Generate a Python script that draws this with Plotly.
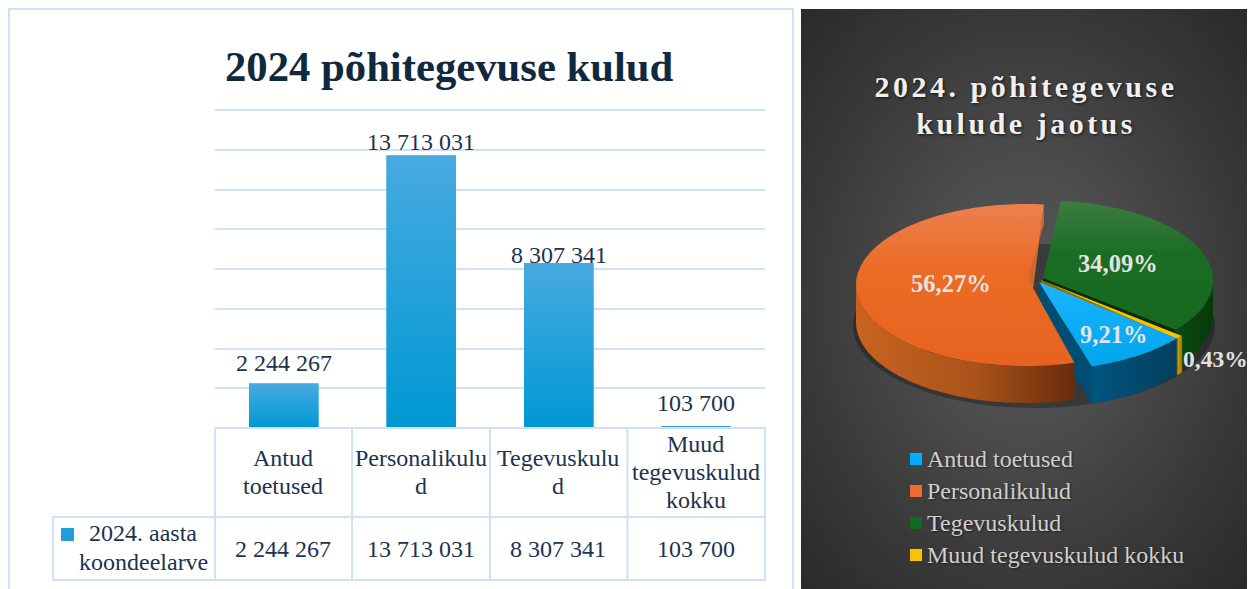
import numpy as np
import plotly.graph_objects as go

# ---------- data ----------
categories = ["Antud toetused", "Personalikulud", "Tegevuskulud", "Muud tegevuskulud kokku"]
values_2024 = [2244267, 13713031, 8307341, 103700]
series_name = ["2024. aasta", "koondeelarve"]
header_lines = [["Antud", "toetused"], ["Personalikulu", "d"], ["Tegevuskulu", "d"], ["Muud", "tegevuskulud", "kokku"]]
bar_title = "2024 põhitegevuse kulud"
pie_title = ["2024. põhitegevuse", "kulude jaotus"]

W, H = 1248, 589
SERIF = "Liberation Serif"
INK = "#10293F"
TXT = "#1B3350"
LINE = "#CFE2F5"


def fmt(v):
    return f"{v:,}".replace(",", " ")


def px(x):
    return x / W


def py(y):
    return 1 - y / H


fig = go.Figure()
annos = []
shapes = []


def text(x, y, s, size=24, color=TXT, bold=False, anchor="center", shadow=None):
    f = dict(family=SERIF, size=size, color=color)
    if bold:
        f["weight"] = "bold"
    if shadow:
        f["shadow"] = shadow
    annos.append(dict(x=px(x), y=py(y), xref="paper", yref="paper", text=s, showarrow=False,
                      font=f, xanchor=anchor, yanchor="middle", borderpad=0, borderwidth=0))


def line(x0, y0, x1, y1, w=2, c=LINE):
    shapes.append(dict(type="line", xref="paper", yref="paper", x0=px(x0), y0=py(y0), x1=px(x1), y1=py(y1),
                       line=dict(color=c, width=w)))


# ---------- bar chart ----------
idx = list(range(len(categories)))
BAR_W = 0.505
fig.add_trace(go.Bar(x=idx, y=values_2024, width=BAR_W, marker=dict(color="#1FA0DC", line_width=0),
                     name="2024. aasta koondeelarve", hoverinfo="skip", xaxis="x", yaxis="y"))
for i, v in zip(idx, values_2024):
    fig.add_trace(go.Scatter(
        x=[i - BAR_W / 2, i + BAR_W / 2, i + BAR_W / 2, i - BAR_W / 2, i - BAR_W / 2],
        y=[0, 0, v, v, 0], mode="none", fill="toself", hoverinfo="skip",
        fillgradient=dict(type="vertical", colorscale=[[0, "#0098D3"], [1, "#47AAE0"]]),
        xaxis="x", yaxis="y"))
label_shift = [20, 13, 8, 23]
for i, v, s in zip(idx, values_2024, label_shift):
    annos.append(dict(x=i, y=v, xref="x", yref="y", text=fmt(v), showarrow=False, yshift=s,
                      font=dict(family=SERIF, size=24, color=TXT), yanchor="middle"))

# top gridline sits on the edge of the plot area, so plotly leaves it out
line(215, 110, 765, 110)
# frame round the chart, open at the bottom
line(9, 9, 793, 9)
line(9, 8, 9, 589)
line(793, 8, 793, 589)
# table
col_x = [215, 352, 490, 627.5, 765]
for x in col_x:
    line(x, 428, x, 580)
line(53, 517, 53, 580)
line(215, 428, 765, 428)
line(53, 517, 765, 517)
line(53, 580, 765, 580)

centers = [(col_x[i] + col_x[i + 1]) / 2 for i in range(4)]
for n_col, (c, lines_) in enumerate(zip(centers, header_lines)):
    n = len(lines_)
    for k, s in enumerate(lines_):
        text(c - 0.5, 472 + (k - (n - 1) / 2) * 28, s)
    text(c - 0.5, 549, fmt(values_2024[n_col]))
text(143, 533, series_name[0])
text(143, 562, series_name[1])
text(449.5, 67, bar_title, size=42.7, color=INK, bold=True)


# ---------- dark panel + 3D pie (pixel axes x2/y2) ----------
def poly(xs, ys, colorscale=None, kind="vertical", color=None):
    xs = list(xs) + [xs[0]]
    ys = list(ys) + [ys[0]]
    kw = dict(x=xs, y=ys, mode="none", fill="toself", hoverinfo="skip", xaxis="x2", yaxis="y2")
    if colorscale:
        kw["fillgradient"] = dict(type=kind, colorscale=colorscale)
    else:
        kw["fillcolor"] = color
    fig.add_trace(go.Scatter(**kw))


# panel background: radial glow painted as a fine grey raster
gx = np.arange(802, W, 2.0)
gy = np.arange(10, H, 2.0)
X, Y = np.meshgrid(gx, gy)
glow = np.clip(np.hypot((X - 1024) / 310, (Y - 300) / 400), 0, 1)
fig.add_trace(go.Heatmap(x=gx, y=gy, z=glow, zmin=0, zmax=1, showscale=False, hoverinfo="skip",
                         colorscale=[[0, "#565656"], [0.3, "#4E4E4E"], [0.72, "#383838"], [1, "#2B2B2B"]],
                         xaxis="x2", yaxis="y2"))

total = sum(values_2024)
shares = [v / total for v in values_2024]
ROT = 40.3
DEPTH = 37
edges = [ROT]
for s in shares:
    edges.append(edges[-1] + s * 360)


def arc(e, a0, a1, dy=0, n=60):
    t = np.radians(np.linspace(a0, a1, n))
    return list(e["cx"] + e["a"] * np.cos(t)), list(e["cy"] + e["b"] * np.sin(t) + dy)


slices = [
    dict(apex=(1039, 282), cx=1041, cy=280, a=178, b=90,
         top=[[0, "#00A6EC"], [1, "#1CB4FF"]], side=[[0, "#00557F"], [1, "#033F5E"]], radial="#004E74"),
    dict(apex=(1033, 288), cx=1026, cy=285, a=170, b=81,
         top=[[0, "#E5631E"], [0.6, "#EC6B25"], [1, "#EB814F"]],
         side=[[0, "#C9631F"], [0.55, "#A9531A"], [1, "#682C0C"]], radial=None),
    dict(apex=(1043, 278), cx=1043, cy=280, a=170, b=79.6,
         top=[[0, "#17691F"], [0.6, "#1B6D24"], [1, "#3D7D41"]],
         side=[[0, "#0A4A10"], [1, "#053A0A"]], radial="#052F08"),
    dict(apex=(1041, 280), cx=1041, cy=280, a=179, b=90,
         top=[[0, "#FFC000"], [1, "#FFC000"]], side=[[0, "#D0A000"], [1, "#9A7600"]], radial="#8F6E00"),
]

# soft shadow on the floor
sh = dict(cx=1034, cy=326, a=181, b=82)
shx, shy = arc(sh, 0, 360, n=120)
poly(shx, shy, color="rgba(0,0,0,0.28)")

for i in [2, 3, 0, 1]:
    e = slices[i]
    a0, a1 = edges[i], edges[i + 1]
    ax, ay = e["apex"]
    # radial face towards the viewer, then the rim
    if e["radial"]:
        ex, ey = arc(e, a1, a1, n=1)
        poly([ax, ex[0], ex[0], ax], [ay, ey[0], ey[0] + DEPTH, ay + DEPTH], color=e["radial"])
    lo = a0
    hi = a1 if i != 1 else 180
    if i == 2:
        lo = 360
    if i == 3:
        lo -= 0.8  # keep the sliver legible
    sx, sy = arc(e, lo, hi)
    bx, by = arc(e, hi, lo, dy=DEPTH)
    poly(sx + bx, sy + by, colorscale=e["side"], kind="horizontal")
    # top face
    pad = 0.4 if i == 3 else 0
    tx, ty = arc(e, a0 - pad, a1 + pad, n=120)
    poly([ax] + tx, [ay] + ty, colorscale=e["top"], kind="vertical")
    if i == 1:
        # inner cut face of the large slice
        ox, oy = tx[-1], ty[-1]
        poly([ox, ox, ax - 5, ax], [oy, oy + 20, ay - 11, ay], color="#C96A35")

SHADOW = "1px 1px 3px rgba(0,0,0,0.7)"
pct_pos = [(1113, 334), (951, 283), (1118, 263), (1215.5, 359)]
pct_size = [24.5, 24.5, 24.5, 23.5]
for (x, y), s, fs in zip(pct_pos, shares, pct_size):
    text(x, y, f"{s * 100:.2f}%".replace(".", ","), size=fs, color="#E3E3E3", bold=True)
text(1026, 87, pie_title[0], size=30, color="#F0F0F0", bold=True, shadow=SHADOW)
text(1026, 123.5, pie_title[1], size=30, color="#F0F0F0", bold=True, shadow=SHADOW)

legend_y = [459, 491, 523, 555]
legend_colors = ["#00AEFF", "#EF6C2C", "#13691F", "#FFC000"]
fig.add_trace(go.Scatter(x=[916] * 4, y=legend_y, mode="markers", hoverinfo="skip", xaxis="x2", yaxis="y2",
                         marker=dict(symbol="square", size=12, color=legend_colors, line_width=0)))
fig.add_trace(go.Scatter(x=[67.5], y=[534.5], mode="markers", hoverinfo="skip", xaxis="x2", yaxis="y2",
                         marker=dict(symbol="square", size=13, color="#1FA0DC", line_width=0)))
for y, s in zip(legend_y, categories):
    text(927, y, s, size=24, color="#D0D0D0", anchor="left", shadow="1px 1px 2px rgba(0,0,0,0.5)")

fig.update_layout(
    width=W, height=H, margin=dict(l=0, r=0, t=0, b=0), showlegend=False,
    paper_bgcolor="white", plot_bgcolor="rgba(0,0,0,0)", annotations=annos, shapes=shapes,
    xaxis=dict(domain=[px(215), px(765)], range=[-0.5, 3.5], visible=False, fixedrange=True),
    yaxis=dict(domain=[py(428), py(110)], range=[0, 16000000], dtick=2000000, showgrid=True, gridcolor=LINE,
               gridwidth=2, zeroline=False, showticklabels=False, ticks="", showline=False, fixedrange=True),
    xaxis2=dict(domain=[0, 1], range=[0, W], visible=False, anchor="y2", fixedrange=True),
    yaxis2=dict(domain=[0, 1], range=[H, 0], visible=False, anchor="x2", fixedrange=True),
)

post = """
document.documentElement.style.margin='0';document.body.style.margin='0';document.body.style.overflow='hidden';
document.querySelectorAll('.annotation-text').forEach(function(t){
  if(t.textContent.indexOf('2024. põhi')===0||t.textContent==='kulude jaotus'){t.style.letterSpacing='3.5px';}
});
"""
fig.write_html("out.html", post_script=post, config={"displayModeBar": False})
